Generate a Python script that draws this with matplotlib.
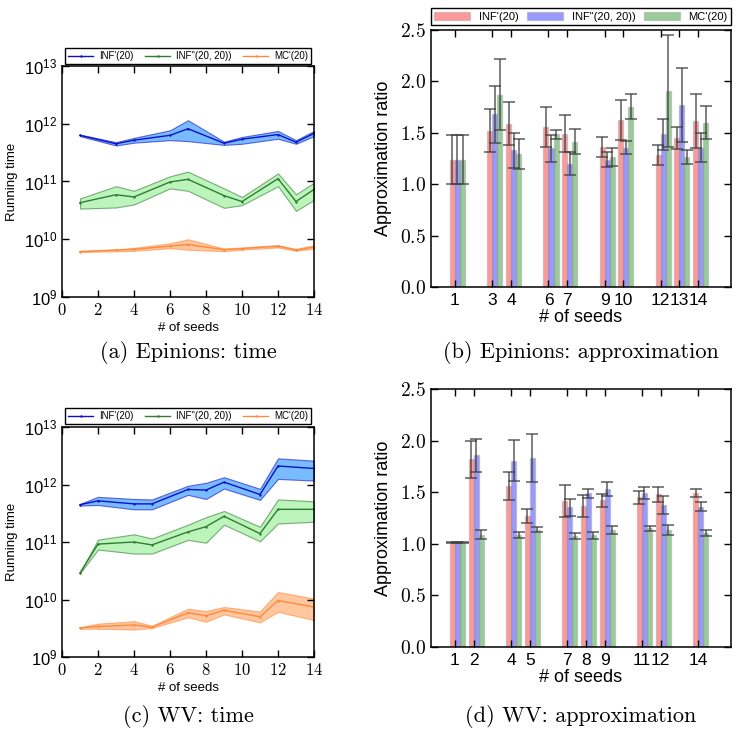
import matplotlib
matplotlib.use('Agg')
import matplotlib.pyplot as plt
from matplotlib.ticker import FuncFormatter, LogLocator
from matplotlib.patches import Patch
from matplotlib.lines import Line2D

plt.rcParams['mathtext.fontset'] = 'cm'
plt.rcParams['font.family'] = ['Liberation Sans', 'DejaVu Sans']

labels = ["INF'(20)", 'INF"(20, 20))', "MC'(20)"]

# Epinions: running time
seeds_a = [1, 3, 4, 6, 7, 9, 10, 12, 13, 14]
inf1_a = [6.3e11, 4.5e11, 5.2e11, 6.3e11, 8.2e11, 4.6e11, 5.4e11, 6.5e11, 4.8e11, 6.8e11]
inf1_a_lo = [6.1e11, 4.2e11, 4.7e11, 5.2e11, 5.0e11, 4.3e11, 4.5e11, 5.5e11, 4.5e11, 6.1e11]
inf1_a_hi = [6.5e11, 4.8e11, 5.7e11, 7.7e11, 1.15e12, 4.9e11, 5.9e11, 7.5e11, 5.2e11, 7.5e11]
inf2_a = [4.3e10, 5.9e10, 5.4e10, 9.8e10, 1.09e11, 5.7e10, 4.5e10, 1.12e11, 4.5e10, 7.3e10]
inf2_a_lo = [3.4e10, 3.55e10, 4.0e10, 7.6e10, 6.9e10, 3.5e10, 3.9e10, 8.3e10, 3.1e10, 4.8e10]
inf2_a_hi = [5.1e10, 8.3e10, 6.9e10, 1.23e11, 1.48e11, 7.6e10, 5.4e10, 1.38e11, 6.0e10, 9.5e10]
mc_a = [6.1e9, 6.5e9, 6.7e9, 7.6e9, 8.1e9, 6.6e9, 6.9e9, 7.6e9, 6.5e9, 7.3e9]
mc_a_lo = [6.0e9, 6.2e9, 6.3e9, 7.0e9, 6.6e9, 6.2e9, 6.6e9, 7.2e9, 6.3e9, 6.9e9]
mc_a_hi = [6.3e9, 6.65e9, 7.1e9, 8.5e9, 1.0e10, 6.9e9, 7.2e9, 7.9e9, 6.8e9, 7.9e9]

# WV: running time
seeds_c = [1, 2, 4, 5, 7, 8, 9, 11, 12, 14]
inf1_c = [4.45e11, 5.2e11, 4.6e11, 4.6e11, 8.2e11, 8.0e11, 1.1e12, 6.7e11, 2.1e12, 1.9e12]
inf1_c_lo = [4.3e11, 4.4e11, 3.7e11, 3.7e11, 6.6e11, 5.6e11, 8.5e11, 5.4e11, 1.25e12, 1.17e12]
inf1_c_hi = [4.6e11, 6.1e11, 5.6e11, 5.5e11, 9.5e11, 1.07e12, 1.34e12, 8.4e11, 2.85e12, 2.6e12]
inf2_c = [2.9e10, 9.2e10, 1.0e11, 8.9e10, 1.5e11, 1.85e11, 2.8e11, 1.4e11, 3.7e11, 3.7e11]
inf2_c_lo = [2.85e10, 7.4e10, 6.3e10, 6.3e10, 1.09e11, 9.7e10, 2.0e11, 1.03e11, 2.1e11, 2.25e11]
inf2_c_hi = [2.95e10, 1.1e11, 1.36e11, 1.15e11, 2.0e11, 2.7e11, 3.46e11, 1.84e11, 5.5e11, 5.1e11]
mc_c = [3.2e9, 3.4e9, 3.6e9, 3.3e9, 5.9e9, 5.2e9, 6.5e9, 5.0e9, 9.6e9, 7.4e9]
mc_c_lo = [3.1e9, 3.1e9, 3.0e9, 3.2e9, 4.9e9, 4.1e9, 5.5e9, 4.0e9, 6.1e9, 4.4e9]
mc_c_hi = [3.3e9, 3.8e9, 4.2e9, 3.5e9, 6.9e9, 6.3e9, 7.4e9, 6.2e9, 1.35e10, 1.04e10]

# Epinions: approximation ratio
seeds_b = [1, 3, 4, 6, 7, 9, 10, 12, 13, 14]
inf1_b = [1.24, 1.52, 1.59, 1.555, 1.49, 1.364, 1.624, 1.283, 1.448, 1.617]
inf1_b_err = [0.235, 0.21, 0.21, 0.195, 0.18, 0.095, 0.195, 0.10, 0.107, 0.265]
inf2_b = [1.24, 1.68, 1.33, 1.35, 1.20, 1.24, 1.357, 1.484, 1.767, 1.354]
inf2_b_err = [0.235, 0.275, 0.17, 0.13, 0.11, 0.07, 0.065, 0.148, 0.36, 0.14]
mc_b = [1.24, 1.87, 1.29, 1.485, 1.415, 1.263, 1.753, 1.906, 1.263, 1.60]
mc_b_err = [0.235, 0.345, 0.145, 0.045, 0.125, 0.087, 0.123, 0.545, 0.07, 0.16]

# WV: approximation ratio
seeds_d = [1, 2, 4, 5, 7, 8, 9, 11, 12, 14]
inf1_d = [1.01, 1.82, 1.56, 1.27, 1.41, 1.365, 1.42, 1.452, 1.48, 1.491]
inf1_d_err = [0.004, 0.18, 0.14, 0.067, 0.155, 0.105, 0.065, 0.063, 0.073, 0.037]
inf2_d = [1.01, 1.86, 1.805, 1.83, 1.352, 1.488, 1.53, 1.49, 1.374, 1.361]
inf2_d_err = [0.004, 0.16, 0.2, 0.23, 0.085, 0.04, 0.065, 0.06, 0.088, 0.047]
mc_d = [1.01, 1.09, 1.086, 1.138, 1.076, 1.083, 1.134, 1.151, 1.134, 1.102]
mc_d_err = [0.004, 0.045, 0.033, 0.028, 0.032, 0.032, 0.04, 0.025, 0.049, 0.03]

W, H = 746, 732
line_colors = ['#1010c8', '#2e7d32', '#ff8a3d']
fill_colors = ['#1e90ff', '#90ee90', '#ffa060']
bar_colors = ['#ff0000', '#0000ff', '#008000']
bar_edge = (0.6, 0.6, 0.6)


def box(l, t, r, b):
    return [l / W, (H - b) / H, (r - l) / W, (b - t) / H]


def style(ax):
    ax.tick_params(direction='in', top=True, right=True, length=5, width=1)
    for s in ax.spines.values():
        s.set_linewidth(1.1)


def time_panel(ax, seeds, series, lg_box):
    for (mid, lo, hi), lc, fc, lab in zip(series, line_colors, fill_colors, labels):
        ax.fill_between(seeds, lo, hi, facecolor=fc, alpha=0.6,
                        edgecolor=lc, linewidth=0.8)
        ax.plot(seeds, mid, color=lc, lw=1.0, marker='+', ms=1.5, label=lab)
    ax.set_yscale('log')
    ax.set_ylim(1e9, 1e13)
    ax.set_xlim(0, 14)
    ax.set_xticks(range(0, 15, 2))
    ax.yaxis.set_major_locator(LogLocator(base=10, numticks=10))
    ax.yaxis.set_minor_locator(LogLocator(base=10, subs=[], numticks=10))
    ax.xaxis.set_major_formatter(FuncFormatter(lambda v, p: '$%d$' % v))
    ax.tick_params(labelsize=12)
    style(ax)
    ax.set_ylabel('Running time', fontsize=9.5, labelpad=4)
    ax.set_xlabel('# of seeds', fontsize=9.5, labelpad=3)
    handles = [Line2D([], [], color=c, lw=1.0, marker='+', ms=1.5) for c in line_colors]
    leg = ax.figure.legend(handles, labels, loc='lower left', ncol=3, mode='expand',
                           bbox_to_anchor=lg_box, borderaxespad=0, fontsize=7,
                           fancybox=False, edgecolor='black', handlelength=2.6,
                           handletextpad=0.6, columnspacing=1.0,
                           borderpad=0.3, framealpha=1)
    leg.get_frame().set_linewidth(1.0)


def bar_panel(ax, seeds, series, lg_box=None):
    w = 0.27
    offs = [-w / 2, w / 2, 3 * w / 2]
    for (vals, errs), c, off, lab in zip(series, bar_colors, offs, labels):
        ax.bar([s + off for s in seeds], vals, w, yerr=errs, color=c, alpha=0.4,
               edgecolor=bar_edge, linewidth=1.0, label=lab,
               error_kw=dict(ecolor='0.25', elinewidth=1.1, capsize=4, capthick=1.1, alpha=0.85))
    ax.set_xlim(-0.28, 15.76)
    ax.set_ylim(0, 2.5)
    ax.set_xticks(seeds)
    ax.set_xticklabels([str(s) for s in seeds], fontsize=12.5)
    ax.set_yticks([0, 0.5, 1.0, 1.5, 2.0, 2.5])
    ax.yaxis.set_major_formatter(FuncFormatter(lambda v, p: '$%.1f$' % v))
    ax.tick_params(axis='y', labelsize=14)
    style(ax)
    ax.tick_params(axis='x', pad=4)
    ax.set_ylabel('Approximation ratio', fontsize=13, labelpad=6)
    ax.set_xlabel('# of seeds', fontsize=13, labelpad=1)
    if lg_box is not None:
        handles = [Patch(facecolor=c, alpha=0.4, edgecolor=bar_edge) for c in bar_colors]
        leg = ax.figure.legend(handles, labels, loc='lower left', ncol=3, mode='expand',
                               bbox_to_anchor=lg_box, borderaxespad=0, fontsize=8,
                               fancybox=False, edgecolor='black', handlelength=3.2,
                               borderpad=0.3, framealpha=1)
        leg.get_frame().set_linewidth(1.0)


fig = plt.figure(figsize=(W / 100, H / 100), dpi=100)

ax_a = fig.add_axes(box(62, 66, 314, 297))
time_panel(ax_a, seeds_a, [(inf1_a, inf1_a_lo, inf1_a_hi), (inf2_a, inf2_a_lo, inf2_a_hi),
                           (mc_a, mc_a_lo, mc_a_hi)],
           (65 / W, (H - 64) / H, 246 / W, 17 / H))

ax_b = fig.add_axes(box(431, 30, 731, 287))
bar_panel(ax_b, seeds_b, [(inf1_b, inf1_b_err), (inf2_b, inf2_b_err), (mc_b, mc_b_err)],
          (431 / W, (H - 25) / H, 300 / W, 19 / H))

ax_c = fig.add_axes(box(62, 427, 314, 657))
time_panel(ax_c, seeds_c, [(inf1_c, inf1_c_lo, inf1_c_hi), (inf2_c, inf2_c_lo, inf2_c_hi),
                           (mc_c, mc_c_lo, mc_c_hi)],
           (65 / W, (H - 424) / H, 246 / W, 17 / H))

ax_d = fig.add_axes(box(431, 389, 731, 647))
bar_panel(ax_d, seeds_d, [(inf1_d, inf1_d_err), (inf2_d, inf2_d_err), (mc_d, mc_d_err)])

captions = [(188, 352, '(a) Epinions: time'), (581, 352, '(b) Epinions: approximation'),
            (188, 717, '(c) WV: time'), (581, 717, '(d) WV: approximation')]
for x, y, txt in captions:
    fig.text(x / W, (H - y) / H, txt, ha='center', va='center',
             fontsize=16, family='cmr10')

fig.savefig('out.png', dpi=100)
